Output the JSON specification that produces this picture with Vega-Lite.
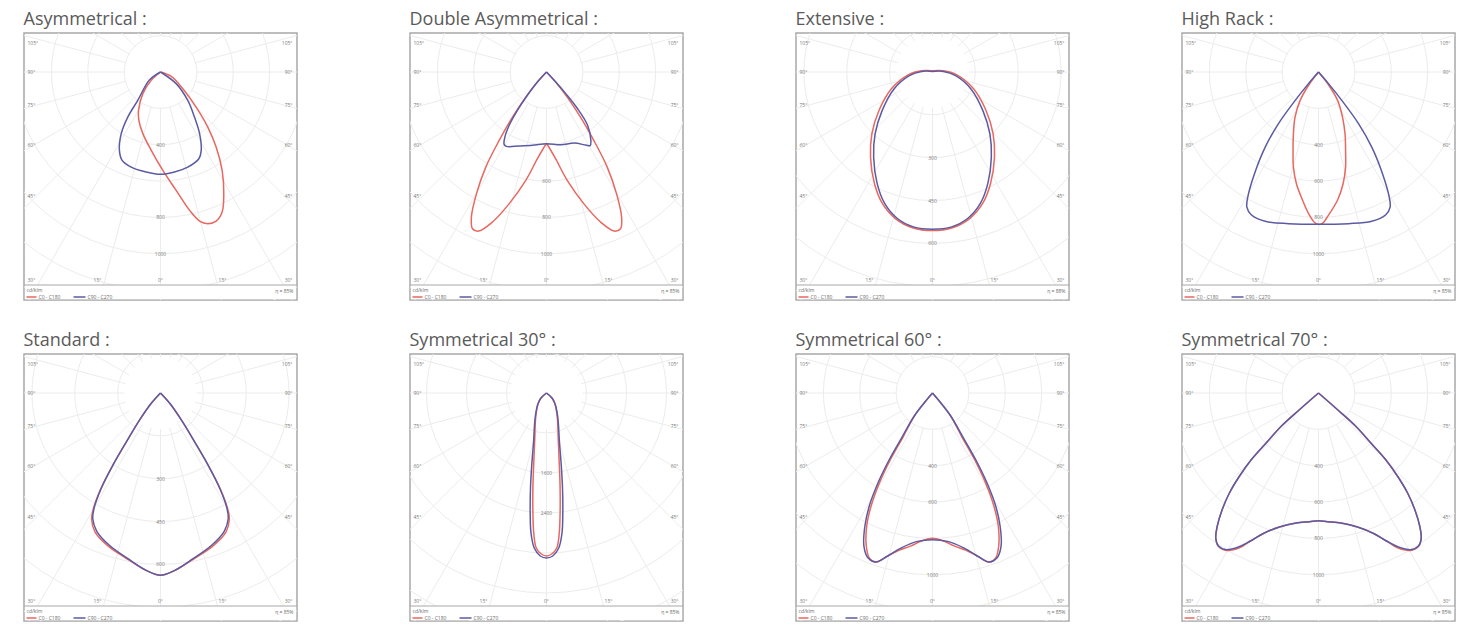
{
"$schema":"https://vega.github.io/schema/vega-lite/v6.json",
"background":"white",
"padding":{"left":22,"top":10,"right":5,"bottom":0},
"columns":4,
"spacing":{"row":54,"column":113},
"bounds":"flush",
"resolve":{"scale":{"x":"independent","y":"independent","size":"independent","color":"independent"}},
"config":{
 "view":{"stroke":"#a8a8a8","strokeWidth":1.5},
 "title":{"anchor":"start","font":"Open Sans","fontSize":18,"fontWeight":"normal","color":"#5a5a5a","offset":4},
 "text":{"font":"Open Sans"}
},
"datasets":{
"radials":[{"x1":0,"y1":36,"x2":0,"y2":300},
{"x1":9.3,"y1":34.8,"x2":77.6,"y2":289.8},{"x1":-9.3,"y1":34.8,"x2":-77.6,"y2":289.8},
{"x1":18,"y1":31.2,"x2":150,"y2":259.8},{"x1":-18,"y1":31.2,"x2":-150,"y2":259.8},
{"x1":25.5,"y1":25.5,"x2":212.1,"y2":212.1},{"x1":-25.5,"y1":25.5,"x2":-212.1,"y2":212.1},
{"x1":31.2,"y1":18,"x2":259.8,"y2":150},{"x1":-31.2,"y1":18,"x2":-259.8,"y2":150},
{"x1":34.8,"y1":9.3,"x2":289.8,"y2":77.6},{"x1":-34.8,"y1":9.3,"x2":-289.8,"y2":77.6},
{"x1":36,"y1":0,"x2":300,"y2":0},{"x1":-36,"y1":0,"x2":-300,"y2":0},
{"x1":34.8,"y1":-9.3,"x2":289.8,"y2":-77.6},{"x1":-34.8,"y1":-9.3,"x2":-289.8,"y2":-77.6},
{"x1":31.2,"y1":-18,"x2":259.8,"y2":-150},{"x1":-31.2,"y1":-18,"x2":-259.8,"y2":-150},
{"x1":25.5,"y1":-25.5,"x2":212.1,"y2":-212.1},{"x1":-25.5,"y1":-25.5,"x2":-212.1,"y2":-212.1},
{"x1":18,"y1":-31.2,"x2":150,"y2":-259.8},{"x1":-18,"y1":-31.2,"x2":-150,"y2":-259.8},
{"x1":9.3,"y1":-34.8,"x2":77.6,"y2":-289.8},{"x1":-9.3,"y1":-34.8,"x2":-77.6,"y2":-289.8},
{"x1":0,"y1":-36,"x2":0,"y2":-300}],
"angles":[
{"t":"105°","x":-133,"y":-29,"side":"L"},{"t":"90°","x":-133,"y":0,"side":"L"},{"t":"75°","x":-133,"y":33,"side":"L"},{"t":"60°","x":-133,"y":73,"side":"L"},{"t":"45°","x":-133,"y":124,"side":"L"},{"t":"30°","x":-133,"y":208,"side":"L"},
{"t":"105°","x":132,"y":-29,"side":"R"},{"t":"90°","x":132,"y":0,"side":"R"},{"t":"75°","x":132,"y":33,"side":"R"},{"t":"60°","x":132,"y":73,"side":"R"},{"t":"45°","x":132,"y":124,"side":"R"},{"t":"30°","x":132,"y":208,"side":"R"},
{"t":"15°","x":-63,"y":208,"side":"C"},{"t":"0°","x":0,"y":208,"side":"C"},{"t":"15°","x":62,"y":208,"side":"C"}],
"legend":[{"s":"C0 - C180","x":-134,"x2":-124,"y":225,"tx":-122},{"s":"C90 - C270","x":-87,"x2":-75,"y":225,"tx":-73}],
"rings":[
{"p":"a","r":200,"lab":false},{"p":"a","r":400,"lab":true},{"p":"a","r":600,"lab":false},{"p":"a","r":800,"lab":true},{"p":"a","r":1000,"lab":true},{"p":"a","r":1200,"lab":false},{"p":"a","r":1400,"lab":false},
{"p":"b","r":200,"lab":false},{"p":"b","r":400,"lab":false},{"p":"b","r":600,"lab":true},{"p":"b","r":800,"lab":true},{"p":"b","r":1000,"lab":true},{"p":"b","r":1200,"lab":false},{"p":"b","r":1400,"lab":false},
{"p":"c","r":150,"lab":false},{"p":"c","r":300,"lab":true},{"p":"c","r":450,"lab":true},{"p":"c","r":600,"lab":true},{"p":"c","r":750,"lab":false},{"p":"c","r":900,"lab":false},
{"p":"d","r":200,"lab":false},{"p":"d","r":400,"lab":true},{"p":"d","r":600,"lab":true},{"p":"d","r":800,"lab":true},{"p":"d","r":1000,"lab":true},{"p":"d","r":1200,"lab":false},{"p":"d","r":1400,"lab":false},
{"p":"e","r":150,"lab":false},{"p":"e","r":300,"lab":true},{"p":"e","r":450,"lab":true},{"p":"e","r":600,"lab":true},{"p":"e","r":750,"lab":false},{"p":"e","r":900,"lab":false},
{"p":"f","r":800,"lab":false},{"p":"f","r":1600,"lab":true},{"p":"f","r":2400,"lab":true},{"p":"f","r":3200,"lab":false},{"p":"f","r":4000,"lab":false},{"p":"f","r":4800,"lab":false},{"p":"f","r":5600,"lab":false},
{"p":"g","r":200,"lab":false},{"p":"g","r":400,"lab":true},{"p":"g","r":600,"lab":true},{"p":"g","r":800,"lab":false},{"p":"g","r":1000,"lab":true},{"p":"g","r":1200,"lab":false},{"p":"g","r":1400,"lab":false},
{"p":"h","r":200,"lab":false},{"p":"h","r":400,"lab":true},{"p":"h","r":600,"lab":true},{"p":"h","r":800,"lab":true},{"p":"h","r":1000,"lab":true},{"p":"h","r":1200,"lab":false},{"p":"h","r":1400,"lab":false}],
"curves":[
{"p":"a","s":"C0 - C180","i":0,"x":0,"y":0},{"p":"a","s":"C0 - C180","i":1,"x":-51,"y":46},{"p":"a","s":"C0 - C180","i":2,"x":-97,"y":119},{"p":"a","s":"C0 - C180","i":3,"x":-121,"y":211},{"p":"a","s":"C0 - C180","i":4,"x":-119,"y":266},{"p":"a","s":"C0 - C180","i":5,"x":-97,"y":339},{"p":"a","s":"C0 - C180","i":6,"x":-51,"y":431},{"p":"a","s":"C0 - C180","i":7,"x":13,"y":541},{"p":"a","s":"C0 - C180","i":8,"x":86,"y":651},{"p":"a","s":"C0 - C180","i":9,"x":160,"y":761},{"p":"a","s":"C0 - C180","i":10,"x":215,"y":820},{"p":"a","s":"C0 - C180","i":11,"x":260,"y":834},{"p":"a","s":"C0 - C180","i":12,"x":306,"y":820},{"p":"a","s":"C0 - C180","i":13,"x":339,"y":770},{"p":"a","s":"C0 - C180","i":14,"x":348,"y":669},{"p":"a","s":"C0 - C180","i":15,"x":339,"y":541},{"p":"a","s":"C0 - C180","i":16,"x":306,"y":413},{"p":"a","s":"C0 - C180","i":17,"x":260,"y":303},{"p":"a","s":"C0 - C180","i":18,"x":196,"y":193},{"p":"a","s":"C0 - C180","i":19,"x":123,"y":92},{"p":"a","s":"C0 - C180","i":20,"x":59,"y":24},{"p":"a","s":"C0 - C180","i":21,"x":0,"y":0},
{"p":"a","s":"C90 - C270","i":0,"x":0,"y":0},{"p":"a","s":"C90 - C270","i":1,"x":-61,"y":44},{"p":"a","s":"C90 - C270","i":2,"x":-125,"y":156},{"p":"a","s":"C90 - C270","i":3,"x":-180,"y":248},{"p":"a","s":"C90 - C270","i":4,"x":-216,"y":339},{"p":"a","s":"C90 - C270","i":5,"x":-226,"y":431},{"p":"a","s":"C90 - C270","i":6,"x":-211,"y":486},{"p":"a","s":"C90 - C270","i":7,"x":-161,"y":523},{"p":"a","s":"C90 - C270","i":8,"x":-79,"y":550},{"p":"a","s":"C90 - C270","i":9,"x":0,"y":563},{"p":"a","s":"C90 - C270","i":10,"x":77,"y":550},{"p":"a","s":"C90 - C270","i":11,"x":150,"y":523},{"p":"a","s":"C90 - C270","i":12,"x":211,"y":477},{"p":"a","s":"C90 - C270","i":13,"x":224,"y":431},{"p":"a","s":"C90 - C270","i":14,"x":215,"y":339},{"p":"a","s":"C90 - C270","i":15,"x":187,"y":248},{"p":"a","s":"C90 - C270","i":16,"x":150,"y":156},{"p":"a","s":"C90 - C270","i":17,"x":86,"y":64},{"p":"a","s":"C90 - C270","i":18,"x":0,"y":0},
{"p":"b","s":"C0 - C180","i":0,"x":0,"y":0},{"p":"b","s":"C0 - C180","i":1,"x":-50,"y":55},{"p":"b","s":"C0 - C180","i":2,"x":-114,"y":138},{"p":"b","s":"C0 - C180","i":3,"x":-187,"y":248},{"p":"b","s":"C0 - C180","i":4,"x":-260,"y":376},{"p":"b","s":"C0 - C180","i":5,"x":-334,"y":523},{"p":"b","s":"C0 - C180","i":6,"x":-385,"y":669},{"p":"b","s":"C0 - C180","i":7,"x":-413,"y":798},{"p":"b","s":"C0 - C180","i":8,"x":-407,"y":862},{"p":"b","s":"C0 - C180","i":9,"x":-374,"y":875},{"p":"b","s":"C0 - C180","i":10,"x":-297,"y":825},{"p":"b","s":"C0 - C180","i":11,"x":-205,"y":724},{"p":"b","s":"C0 - C180","i":12,"x":-114,"y":596},{"p":"b","s":"C0 - C180","i":13,"x":-50,"y":477},{"p":"b","s":"C0 - C180","i":14,"x":-20,"y":425},{"p":"b","s":"C0 - C180","i":15,"x":0,"y":398},{"p":"b","s":"C0 - C180","i":16,"x":20,"y":425},{"p":"b","s":"C0 - C180","i":17,"x":50,"y":477},{"p":"b","s":"C0 - C180","i":18,"x":114,"y":596},{"p":"b","s":"C0 - C180","i":19,"x":205,"y":724},{"p":"b","s":"C0 - C180","i":20,"x":297,"y":825},{"p":"b","s":"C0 - C180","i":21,"x":374,"y":875},{"p":"b","s":"C0 - C180","i":22,"x":407,"y":862},{"p":"b","s":"C0 - C180","i":23,"x":413,"y":798},{"p":"b","s":"C0 - C180","i":24,"x":385,"y":669},{"p":"b","s":"C0 - C180","i":25,"x":334,"y":523},{"p":"b","s":"C0 - C180","i":26,"x":260,"y":376},{"p":"b","s":"C0 - C180","i":27,"x":187,"y":248},{"p":"b","s":"C0 - C180","i":28,"x":114,"y":138},{"p":"b","s":"C0 - C180","i":29,"x":50,"y":55},{"p":"b","s":"C0 - C180","i":30,"x":0,"y":0},
{"p":"b","s":"C90 - C270","i":0,"x":0,"y":0},{"p":"b","s":"C90 - C270","i":1,"x":-50,"y":55},{"p":"b","s":"C90 - C270","i":2,"x":-105,"y":128},{"p":"b","s":"C90 - C270","i":3,"x":-160,"y":211},{"p":"b","s":"C90 - C270","i":4,"x":-205,"y":293},{"p":"b","s":"C90 - C270","i":5,"x":-229,"y":358},{"p":"b","s":"C90 - C270","i":6,"x":-233,"y":398},{"p":"b","s":"C90 - C270","i":7,"x":-220,"y":409},{"p":"b","s":"C90 - C270","i":8,"x":-150,"y":407},{"p":"b","s":"C90 - C270","i":9,"x":-77,"y":403},{"p":"b","s":"C90 - C270","i":10,"x":0,"y":394},{"p":"b","s":"C90 - C270","i":11,"x":79,"y":400},{"p":"b","s":"C90 - C270","i":12,"x":152,"y":391},{"p":"b","s":"C90 - C270","i":13,"x":216,"y":402},{"p":"b","s":"C90 - C270","i":14,"x":240,"y":405},{"p":"b","s":"C90 - C270","i":15,"x":244,"y":376},{"p":"b","s":"C90 - C270","i":16,"x":226,"y":293},{"p":"b","s":"C90 - C270","i":17,"x":171,"y":202},{"p":"b","s":"C90 - C270","i":18,"x":106,"y":119},{"p":"b","s":"C90 - C270","i":19,"x":51,"y":55},{"p":"b","s":"C90 - C270","i":20,"x":0,"y":0},
{"p":"c","s":"C0 - C180","i":0,"x":0,"y":-4},{"p":"c","s":"C0 - C180","i":1,"x":38,"y":-4},{"p":"c","s":"C0 - C180","i":2,"x":85,"y":10},{"p":"c","s":"C0 - C180","i":3,"x":143,"y":58},{"p":"c","s":"C0 - C180","i":4,"x":187,"y":134},{"p":"c","s":"C0 - C180","i":5,"x":212,"y":216},{"p":"c","s":"C0 - C180","i":6,"x":217,"y":298},{"p":"c","s":"C0 - C180","i":7,"x":203,"y":391},{"p":"c","s":"C0 - C180","i":8,"x":175,"y":461},{"p":"c","s":"C0 - C180","i":9,"x":130,"y":513},{"p":"c","s":"C0 - C180","i":10,"x":70,"y":545},{"p":"c","s":"C0 - C180","i":11,"x":0,"y":555},{"p":"c","s":"C0 - C180","i":12,"x":-70,"y":545},{"p":"c","s":"C0 - C180","i":13,"x":-130,"y":513},{"p":"c","s":"C0 - C180","i":14,"x":-175,"y":461},{"p":"c","s":"C0 - C180","i":15,"x":-203,"y":391},{"p":"c","s":"C0 - C180","i":16,"x":-217,"y":298},{"p":"c","s":"C0 - C180","i":17,"x":-212,"y":216},{"p":"c","s":"C0 - C180","i":18,"x":-187,"y":134},{"p":"c","s":"C0 - C180","i":19,"x":-143,"y":58},{"p":"c","s":"C0 - C180","i":20,"x":-85,"y":10},{"p":"c","s":"C0 - C180","i":21,"x":-38,"y":-4},{"p":"c","s":"C0 - C180","i":22,"x":0,"y":-4},
{"p":"c","s":"C90 - C270","i":0,"x":0,"y":-2},{"p":"c","s":"C90 - C270","i":1,"x":38,"y":-2},{"p":"c","s":"C90 - C270","i":2,"x":81,"y":13},{"p":"c","s":"C90 - C270","i":3,"x":136,"y":61},{"p":"c","s":"C90 - C270","i":4,"x":177,"y":137},{"p":"c","s":"C90 - C270","i":5,"x":201,"y":217},{"p":"c","s":"C90 - C270","i":6,"x":206,"y":298},{"p":"c","s":"C90 - C270","i":7,"x":194,"y":389},{"p":"c","s":"C90 - C270","i":8,"x":168,"y":459},{"p":"c","s":"C90 - C270","i":9,"x":125,"y":511},{"p":"c","s":"C90 - C270","i":10,"x":67,"y":542},{"p":"c","s":"C90 - C270","i":11,"x":0,"y":550},{"p":"c","s":"C90 - C270","i":12,"x":-67,"y":542},{"p":"c","s":"C90 - C270","i":13,"x":-125,"y":511},{"p":"c","s":"C90 - C270","i":14,"x":-168,"y":459},{"p":"c","s":"C90 - C270","i":15,"x":-194,"y":389},{"p":"c","s":"C90 - C270","i":16,"x":-206,"y":298},{"p":"c","s":"C90 - C270","i":17,"x":-201,"y":217},{"p":"c","s":"C90 - C270","i":18,"x":-177,"y":137},{"p":"c","s":"C90 - C270","i":19,"x":-136,"y":61},{"p":"c","s":"C90 - C270","i":20,"x":-81,"y":13},{"p":"c","s":"C90 - C270","i":21,"x":-38,"y":-2},{"p":"c","s":"C90 - C270","i":22,"x":0,"y":-2},
{"p":"d","s":"C0 - C180","i":0,"x":0,"y":0},{"p":"d","s":"C0 - C180","i":1,"x":-50,"y":66},{"p":"d","s":"C0 - C180","i":2,"x":-101,"y":156},{"p":"d","s":"C0 - C180","i":3,"x":-129,"y":248},{"p":"d","s":"C0 - C180","i":4,"x":-138,"y":341},{"p":"d","s":"C0 - C180","i":5,"x":-140,"y":440},{"p":"d","s":"C0 - C180","i":6,"x":-138,"y":523},{"p":"d","s":"C0 - C180","i":7,"x":-121,"y":616},{"p":"d","s":"C0 - C180","i":8,"x":-88,"y":704},{"p":"d","s":"C0 - C180","i":9,"x":-50,"y":787},{"p":"d","s":"C0 - C180","i":10,"x":-17,"y":831},{"p":"d","s":"C0 - C180","i":11,"x":17,"y":836},{"p":"d","s":"C0 - C180","i":12,"x":55,"y":787},{"p":"d","s":"C0 - C180","i":13,"x":105,"y":704},{"p":"d","s":"C0 - C180","i":14,"x":135,"y":616},{"p":"d","s":"C0 - C180","i":15,"x":149,"y":523},{"p":"d","s":"C0 - C180","i":16,"x":149,"y":440},{"p":"d","s":"C0 - C180","i":17,"x":146,"y":341},{"p":"d","s":"C0 - C180","i":18,"x":132,"y":248},{"p":"d","s":"C0 - C180","i":19,"x":105,"y":156},{"p":"d","s":"C0 - C180","i":20,"x":52,"y":66},{"p":"d","s":"C0 - C180","i":21,"x":0,"y":0},
{"p":"d","s":"C90 - C270","i":0,"x":0,"y":0},{"p":"d","s":"C90 - C270","i":1,"x":-55,"y":64},{"p":"d","s":"C90 - C270","i":2,"x":-128,"y":156},{"p":"d","s":"C90 - C270","i":3,"x":-220,"y":284},{"p":"d","s":"C90 - C270","i":4,"x":-293,"y":413},{"p":"d","s":"C90 - C270","i":5,"x":-352,"y":559},{"p":"d","s":"C90 - C270","i":6,"x":-389,"y":688},{"p":"d","s":"C90 - C270","i":7,"x":-394,"y":743},{"p":"d","s":"C90 - C270","i":8,"x":-370,"y":785},{"p":"d","s":"C90 - C270","i":9,"x":-293,"y":821},{"p":"d","s":"C90 - C270","i":10,"x":-165,"y":834},{"p":"d","s":"C90 - C270","i":11,"x":0,"y":838},{"p":"d","s":"C90 - C270","i":12,"x":165,"y":834},{"p":"d","s":"C90 - C270","i":13,"x":293,"y":821},{"p":"d","s":"C90 - C270","i":14,"x":370,"y":785},{"p":"d","s":"C90 - C270","i":15,"x":394,"y":743},{"p":"d","s":"C90 - C270","i":16,"x":389,"y":688},{"p":"d","s":"C90 - C270","i":17,"x":352,"y":559},{"p":"d","s":"C90 - C270","i":18,"x":293,"y":413},{"p":"d","s":"C90 - C270","i":19,"x":220,"y":284},{"p":"d","s":"C90 - C270","i":20,"x":128,"y":156},{"p":"d","s":"C90 - C270","i":21,"x":55,"y":64},{"p":"d","s":"C90 - C270","i":22,"x":0,"y":0},
{"p":"e","s":"C0 - C180","i":0,"x":0,"y":0},{"p":"e","s":"C0 - C180","i":1,"x":-33,"y":37},{"p":"e","s":"C0 - C180","i":2,"x":-74,"y":96},{"p":"e","s":"C0 - C180","i":3,"x":-120,"y":172},{"p":"e","s":"C0 - C180","i":4,"x":-167,"y":253},{"p":"e","s":"C0 - C180","i":5,"x":-209,"y":335},{"p":"e","s":"C0 - C180","i":6,"x":-235,"y":405},{"p":"e","s":"C0 - C180","i":7,"x":-241,"y":442},{"p":"e","s":"C0 - C180","i":8,"x":-229,"y":487},{"p":"e","s":"C0 - C180","i":9,"x":-184,"y":535},{"p":"e","s":"C0 - C180","i":10,"x":-116,"y":581},{"p":"e","s":"C0 - C180","i":11,"x":-50,"y":621},{"p":"e","s":"C0 - C180","i":12,"x":0,"y":638},{"p":"e","s":"C0 - C180","i":13,"x":50,"y":621},{"p":"e","s":"C0 - C180","i":14,"x":116,"y":581},{"p":"e","s":"C0 - C180","i":15,"x":184,"y":535},{"p":"e","s":"C0 - C180","i":16,"x":229,"y":487},{"p":"e","s":"C0 - C180","i":17,"x":241,"y":442},{"p":"e","s":"C0 - C180","i":18,"x":235,"y":405},{"p":"e","s":"C0 - C180","i":19,"x":209,"y":335},{"p":"e","s":"C0 - C180","i":20,"x":167,"y":253},{"p":"e","s":"C0 - C180","i":21,"x":120,"y":172},{"p":"e","s":"C0 - C180","i":22,"x":74,"y":96},{"p":"e","s":"C0 - C180","i":23,"x":33,"y":37},{"p":"e","s":"C0 - C180","i":24,"x":0,"y":0},
{"p":"e","s":"C90 - C270","i":0,"x":0,"y":0},{"p":"e","s":"C90 - C270","i":1,"x":-33,"y":37},{"p":"e","s":"C90 - C270","i":2,"x":-74,"y":96},{"p":"e","s":"C90 - C270","i":3,"x":-120,"y":172},{"p":"e","s":"C90 - C270","i":4,"x":-167,"y":253},{"p":"e","s":"C90 - C270","i":5,"x":-208,"y":335},{"p":"e","s":"C90 - C270","i":6,"x":-233,"y":405},{"p":"e","s":"C90 - C270","i":7,"x":-237,"y":440},{"p":"e","s":"C90 - C270","i":8,"x":-223,"y":484},{"p":"e","s":"C90 - C270","i":9,"x":-179,"y":533},{"p":"e","s":"C90 - C270","i":10,"x":-114,"y":580},{"p":"e","s":"C90 - C270","i":11,"x":-50,"y":621},{"p":"e","s":"C90 - C270","i":12,"x":0,"y":638},{"p":"e","s":"C90 - C270","i":13,"x":50,"y":621},{"p":"e","s":"C90 - C270","i":14,"x":114,"y":580},{"p":"e","s":"C90 - C270","i":15,"x":179,"y":533},{"p":"e","s":"C90 - C270","i":16,"x":223,"y":484},{"p":"e","s":"C90 - C270","i":17,"x":237,"y":440},{"p":"e","s":"C90 - C270","i":18,"x":233,"y":405},{"p":"e","s":"C90 - C270","i":19,"x":208,"y":335},{"p":"e","s":"C90 - C270","i":20,"x":167,"y":253},{"p":"e","s":"C90 - C270","i":21,"x":120,"y":172},{"p":"e","s":"C90 - C270","i":22,"x":74,"y":96},{"p":"e","s":"C90 - C270","i":23,"x":33,"y":37},{"p":"e","s":"C90 - C270","i":24,"x":0,"y":0},
{"p":"f","s":"C0 - C180","i":0,"x":0,"y":0},{"p":"f","s":"C0 - C180","i":1,"x":-110,"y":100},{"p":"f","s":"C0 - C180","i":2,"x":-170,"y":220},{"p":"f","s":"C0 - C180","i":3,"x":-215,"y":480},{"p":"f","s":"C0 - C180","i":4,"x":-238,"y":1000},{"p":"f","s":"C0 - C180","i":5,"x":-255,"y":1400},{"p":"f","s":"C0 - C180","i":6,"x":-272,"y":1900},{"p":"f","s":"C0 - C180","i":7,"x":-272,"y":2400},{"p":"f","s":"C0 - C180","i":8,"x":-255,"y":2800},{"p":"f","s":"C0 - C180","i":9,"x":-205,"y":3100},{"p":"f","s":"C0 - C180","i":10,"x":-105,"y":3220},{"p":"f","s":"C0 - C180","i":11,"x":0,"y":3260},{"p":"f","s":"C0 - C180","i":12,"x":105,"y":3220},{"p":"f","s":"C0 - C180","i":13,"x":205,"y":3100},{"p":"f","s":"C0 - C180","i":14,"x":255,"y":2800},{"p":"f","s":"C0 - C180","i":15,"x":272,"y":2400},{"p":"f","s":"C0 - C180","i":16,"x":272,"y":1900},{"p":"f","s":"C0 - C180","i":17,"x":255,"y":1400},{"p":"f","s":"C0 - C180","i":18,"x":238,"y":1000},{"p":"f","s":"C0 - C180","i":19,"x":215,"y":480},{"p":"f","s":"C0 - C180","i":20,"x":170,"y":220},{"p":"f","s":"C0 - C180","i":21,"x":110,"y":100},{"p":"f","s":"C0 - C180","i":22,"x":0,"y":0},
{"p":"f","s":"C90 - C270","i":0,"x":0,"y":0},{"p":"f","s":"C90 - C270","i":1,"x":-110,"y":100},{"p":"f","s":"C90 - C270","i":2,"x":-172,"y":220},{"p":"f","s":"C90 - C270","i":3,"x":-225,"y":480},{"p":"f","s":"C90 - C270","i":4,"x":-260,"y":1000},{"p":"f","s":"C90 - C270","i":5,"x":-292,"y":1400},{"p":"f","s":"C90 - C270","i":6,"x":-320,"y":1900},{"p":"f","s":"C90 - C270","i":7,"x":-326,"y":2400},{"p":"f","s":"C90 - C270","i":8,"x":-310,"y":2800},{"p":"f","s":"C90 - C270","i":9,"x":-245,"y":3100},{"p":"f","s":"C90 - C270","i":10,"x":-125,"y":3260},{"p":"f","s":"C90 - C270","i":11,"x":0,"y":3300},{"p":"f","s":"C90 - C270","i":12,"x":125,"y":3260},{"p":"f","s":"C90 - C270","i":13,"x":245,"y":3100},{"p":"f","s":"C90 - C270","i":14,"x":310,"y":2800},{"p":"f","s":"C90 - C270","i":15,"x":326,"y":2400},{"p":"f","s":"C90 - C270","i":16,"x":320,"y":1900},{"p":"f","s":"C90 - C270","i":17,"x":292,"y":1400},{"p":"f","s":"C90 - C270","i":18,"x":260,"y":1000},{"p":"f","s":"C90 - C270","i":19,"x":225,"y":480},{"p":"f","s":"C90 - C270","i":20,"x":172,"y":220},{"p":"f","s":"C90 - C270","i":21,"x":110,"y":100},{"p":"f","s":"C90 - C270","i":22,"x":0,"y":0},
{"p":"g","s":"C0 - C180","i":0,"x":0,"y":0},{"p":"g","s":"C0 - C180","i":1,"x":-46,"y":55},{"p":"g","s":"C0 - C180","i":2,"x":-101,"y":128},{"p":"g","s":"C0 - C180","i":3,"x":-160,"y":238},{"p":"g","s":"C0 - C180","i":4,"x":-232,"y":367},{"p":"g","s":"C0 - C180","i":5,"x":-292,"y":495},{"p":"g","s":"C0 - C180","i":6,"x":-338,"y":623},{"p":"g","s":"C0 - C180","i":7,"x":-362,"y":733},{"p":"g","s":"C0 - C180","i":8,"x":-364,"y":843},{"p":"g","s":"C0 - C180","i":9,"x":-347,"y":908},{"p":"g","s":"C0 - C180","i":10,"x":-312,"y":930},{"p":"g","s":"C0 - C180","i":11,"x":-248,"y":897},{"p":"g","s":"C0 - C180","i":12,"x":-182,"y":864},{"p":"g","s":"C0 - C180","i":13,"x":-121,"y":842},{"p":"g","s":"C0 - C180","i":14,"x":-61,"y":814},{"p":"g","s":"C0 - C180","i":15,"x":0,"y":799},{"p":"g","s":"C0 - C180","i":16,"x":61,"y":814},{"p":"g","s":"C0 - C180","i":17,"x":121,"y":842},{"p":"g","s":"C0 - C180","i":18,"x":182,"y":864},{"p":"g","s":"C0 - C180","i":19,"x":248,"y":897},{"p":"g","s":"C0 - C180","i":20,"x":312,"y":930},{"p":"g","s":"C0 - C180","i":21,"x":347,"y":908},{"p":"g","s":"C0 - C180","i":22,"x":364,"y":843},{"p":"g","s":"C0 - C180","i":23,"x":362,"y":733},{"p":"g","s":"C0 - C180","i":24,"x":338,"y":623},{"p":"g","s":"C0 - C180","i":25,"x":292,"y":495},{"p":"g","s":"C0 - C180","i":26,"x":232,"y":367},{"p":"g","s":"C0 - C180","i":27,"x":160,"y":238},{"p":"g","s":"C0 - C180","i":28,"x":101,"y":128},{"p":"g","s":"C0 - C180","i":29,"x":46,"y":55},{"p":"g","s":"C0 - C180","i":30,"x":0,"y":0},
{"p":"g","s":"C90 - C270","i":0,"x":0,"y":0},{"p":"g","s":"C90 - C270","i":1,"x":-46,"y":55},{"p":"g","s":"C90 - C270","i":2,"x":-101,"y":128},{"p":"g","s":"C90 - C270","i":3,"x":-165,"y":238},{"p":"g","s":"C90 - C270","i":4,"x":-238,"y":367},{"p":"g","s":"C90 - C270","i":5,"x":-300,"y":495},{"p":"g","s":"C90 - C270","i":6,"x":-348,"y":623},{"p":"g","s":"C90 - C270","i":7,"x":-372,"y":733},{"p":"g","s":"C90 - C270","i":8,"x":-377,"y":843},{"p":"g","s":"C90 - C270","i":9,"x":-354,"y":908},{"p":"g","s":"C90 - C270","i":10,"x":-312,"y":930},{"p":"g","s":"C90 - C270","i":11,"x":-248,"y":898},{"p":"g","s":"C90 - C270","i":12,"x":-174,"y":853},{"p":"g","s":"C90 - C270","i":13,"x":-83,"y":816},{"p":"g","s":"C90 - C270","i":14,"x":0,"y":807},{"p":"g","s":"C90 - C270","i":15,"x":83,"y":816},{"p":"g","s":"C90 - C270","i":16,"x":174,"y":853},{"p":"g","s":"C90 - C270","i":17,"x":248,"y":898},{"p":"g","s":"C90 - C270","i":18,"x":312,"y":930},{"p":"g","s":"C90 - C270","i":19,"x":354,"y":908},{"p":"g","s":"C90 - C270","i":20,"x":377,"y":843},{"p":"g","s":"C90 - C270","i":21,"x":372,"y":733},{"p":"g","s":"C90 - C270","i":22,"x":348,"y":623},{"p":"g","s":"C90 - C270","i":23,"x":300,"y":495},{"p":"g","s":"C90 - C270","i":24,"x":238,"y":367},{"p":"g","s":"C90 - C270","i":25,"x":165,"y":238},{"p":"g","s":"C90 - C270","i":26,"x":101,"y":128},{"p":"g","s":"C90 - C270","i":27,"x":46,"y":55},{"p":"g","s":"C90 - C270","i":28,"x":0,"y":0},
{"p":"h","s":"C0 - C180","i":0,"x":0,"y":0},{"p":"h","s":"C0 - C180","i":1,"x":-105,"y":92},{"p":"h","s":"C0 - C180","i":2,"x":-205,"y":183},{"p":"h","s":"C0 - C180","i":3,"x":-288,"y":275},{"p":"h","s":"C0 - C180","i":4,"x":-370,"y":367},{"p":"h","s":"C0 - C180","i":5,"x":-435,"y":458},{"p":"h","s":"C0 - C180","i":6,"x":-490,"y":550},{"p":"h","s":"C0 - C180","i":7,"x":-530,"y":642},{"p":"h","s":"C0 - C180","i":8,"x":-557,"y":733},{"p":"h","s":"C0 - C180","i":9,"x":-565,"y":798},{"p":"h","s":"C0 - C180","i":10,"x":-548,"y":846},{"p":"h","s":"C0 - C180","i":11,"x":-505,"y":866},{"p":"h","s":"C0 - C180","i":12,"x":-435,"y":852},{"p":"h","s":"C0 - C180","i":13,"x":-374,"y":814},{"p":"h","s":"C0 - C180","i":14,"x":-306,"y":774},{"p":"h","s":"C0 - C180","i":15,"x":-215,"y":737},{"p":"h","s":"C0 - C180","i":16,"x":-123,"y":715},{"p":"h","s":"C0 - C180","i":17,"x":-50,"y":708},{"p":"h","s":"C0 - C180","i":18,"x":0,"y":702},{"p":"h","s":"C0 - C180","i":19,"x":50,"y":708},{"p":"h","s":"C0 - C180","i":20,"x":123,"y":715},{"p":"h","s":"C0 - C180","i":21,"x":215,"y":737},{"p":"h","s":"C0 - C180","i":22,"x":306,"y":774},{"p":"h","s":"C0 - C180","i":23,"x":374,"y":814},{"p":"h","s":"C0 - C180","i":24,"x":435,"y":852},{"p":"h","s":"C0 - C180","i":25,"x":505,"y":866},{"p":"h","s":"C0 - C180","i":26,"x":548,"y":846},{"p":"h","s":"C0 - C180","i":27,"x":565,"y":798},{"p":"h","s":"C0 - C180","i":28,"x":557,"y":733},{"p":"h","s":"C0 - C180","i":29,"x":530,"y":642},{"p":"h","s":"C0 - C180","i":30,"x":490,"y":550},{"p":"h","s":"C0 - C180","i":31,"x":435,"y":458},{"p":"h","s":"C0 - C180","i":32,"x":370,"y":367},{"p":"h","s":"C0 - C180","i":33,"x":288,"y":275},{"p":"h","s":"C0 - C180","i":34,"x":205,"y":183},{"p":"h","s":"C0 - C180","i":35,"x":105,"y":92},{"p":"h","s":"C0 - C180","i":36,"x":0,"y":0},
{"p":"h","s":"C90 - C270","i":0,"x":0,"y":0},{"p":"h","s":"C90 - C270","i":1,"x":-105,"y":92},{"p":"h","s":"C90 - C270","i":2,"x":-205,"y":183},{"p":"h","s":"C90 - C270","i":3,"x":-288,"y":275},{"p":"h","s":"C90 - C270","i":4,"x":-370,"y":367},{"p":"h","s":"C90 - C270","i":5,"x":-435,"y":458},{"p":"h","s":"C90 - C270","i":6,"x":-490,"y":550},{"p":"h","s":"C90 - C270","i":7,"x":-530,"y":642},{"p":"h","s":"C90 - C270","i":8,"x":-557,"y":733},{"p":"h","s":"C90 - C270","i":9,"x":-565,"y":798},{"p":"h","s":"C90 - C270","i":10,"x":-550,"y":842},{"p":"h","s":"C90 - C270","i":11,"x":-512,"y":861},{"p":"h","s":"C90 - C270","i":12,"x":-440,"y":847},{"p":"h","s":"C90 - C270","i":13,"x":-374,"y":814},{"p":"h","s":"C90 - C270","i":14,"x":-306,"y":774},{"p":"h","s":"C90 - C270","i":15,"x":-215,"y":737},{"p":"h","s":"C90 - C270","i":16,"x":-123,"y":715},{"p":"h","s":"C90 - C270","i":17,"x":-50,"y":708},{"p":"h","s":"C90 - C270","i":18,"x":0,"y":702},{"p":"h","s":"C90 - C270","i":19,"x":50,"y":708},{"p":"h","s":"C90 - C270","i":20,"x":123,"y":715},{"p":"h","s":"C90 - C270","i":21,"x":215,"y":737},{"p":"h","s":"C90 - C270","i":22,"x":306,"y":774},{"p":"h","s":"C90 - C270","i":23,"x":374,"y":814},{"p":"h","s":"C90 - C270","i":24,"x":440,"y":847},{"p":"h","s":"C90 - C270","i":25,"x":512,"y":861},{"p":"h","s":"C90 - C270","i":26,"x":550,"y":842},{"p":"h","s":"C90 - C270","i":27,"x":565,"y":798},{"p":"h","s":"C90 - C270","i":28,"x":557,"y":733},{"p":"h","s":"C90 - C270","i":29,"x":530,"y":642},{"p":"h","s":"C90 - C270","i":30,"x":490,"y":550},{"p":"h","s":"C90 - C270","i":31,"x":435,"y":458},{"p":"h","s":"C90 - C270","i":32,"x":370,"y":367},{"p":"h","s":"C90 - C270","i":33,"x":288,"y":275},{"p":"h","s":"C90 - C270","i":34,"x":205,"y":183},{"p":"h","s":"C90 - C270","i":35,"x":105,"y":92},{"p":"h","s":"C90 - C270","i":36,"x":0,"y":0}
]
},
"concat":[
{"title":"Asymmetrical :","width":273,"height":267,"resolve":{"scale":{"x":"independent","y":"independent"}},"layer":[
{"data":{"name":"radials"},"mark":{"type":"rule","clip":true,"color":"#ececec","strokeWidth":1},"encoding":{"x":{"field":"x1","type":"quantitative","scale":{"domain":[-136.5,136.5],"nice":false,"zero":false},"axis":null},"y":{"field":"y1","type":"quantitative","scale":{"domain":[-39,228],"nice":false,"zero":false,"reverse":true},"axis":null},"x2":{"field":"x2"},"y2":{"field":"y2"}}},
{"layer":[
{"data":{"name":"rings"},"transform":[{"filter":"datum.p=='a'"}],"mark":{"type":"point","shape":"circle","filled":false,"clip":true,"color":"#ececec","strokeWidth":1,"opacity":1},"encoding":{"x":{"datum":0,"type":"quantitative","scale":{"domain":[-750.75,750.75],"nice":false,"zero":false},"axis":null},"y":{"datum":0,"type":"quantitative","scale":{"domain":[-214.5,1254],"nice":false,"zero":false,"reverse":true},"axis":null},"size":{"field":"r","type":"quantitative","scale":{"type":"pow","exponent":2,"domain":[0,1400],"range":[0,259183]},"legend":null}}},
{"data":{"name":"rings"},"transform":[{"filter":"datum.p=='a' && datum.lab"}],"mark":{"type":"text","fontSize":5,"color":"#7a7a7a"},"encoding":{"x":{"datum":0,"type":"quantitative","scale":{"domain":[-750.75,750.75],"nice":false,"zero":false},"axis":null},"y":{"field":"r","type":"quantitative","scale":{"domain":[-214.5,1254],"nice":false,"zero":false,"reverse":true},"axis":null},"text":{"field":"r","type":"nominal"}}},
{"data":{"name":"curves"},"transform":[{"filter":"datum.p=='a'"}],"mark":{"type":"line","clip":true,"strokeWidth":1.5,"interpolate":"catmull-rom"},"encoding":{"x":{"field":"x","type":"quantitative","scale":{"domain":[-750.75,750.75],"nice":false,"zero":false},"axis":null},"y":{"field":"y","type":"quantitative","scale":{"domain":[-214.5,1254],"nice":false,"zero":false,"reverse":true},"axis":null},"color":{"field":"s","type":"nominal","scale":{"domain":["C0 - C180","C90 - C270"],"range":["#e8675f","#5b5ba3"]},"legend":null},"order":{"field":"i","type":"quantitative"}}}
]},
{"layer":[
{"data":{"values":[{}]},"mark":{"type":"rect","color":"white"},"encoding":{"x":{"datum":-135.6,"type":"quantitative","scale":{"domain":[-136.5,136.5],"nice":false,"zero":false},"axis":null},"x2":{"datum":135.6},"y":{"datum":213,"type":"quantitative","scale":{"domain":[-39,228],"nice":false,"zero":false,"reverse":true},"axis":null},"y2":{"datum":227.3}}},
{"data":{"values":[{}]},"mark":{"type":"rule","color":"#a8a8a8","strokeWidth":1},"encoding":{"x":{"datum":-136.5,"type":"quantitative","scale":{"domain":[-136.5,136.5],"nice":false,"zero":false},"axis":null},"x2":{"datum":136.5},"y":{"datum":213,"type":"quantitative","scale":{"domain":[-39,228],"nice":false,"zero":false,"reverse":true},"axis":null}}},
{"data":{"name":"angles"},"transform":[{"filter":"datum.side=='L'"}],"mark":{"type":"text","align":"left","fontSize":5,"color":"#7a7a7a"},"encoding":{"x":{"field":"x","type":"quantitative","scale":{"domain":[-136.5,136.5],"nice":false,"zero":false},"axis":null},"y":{"field":"y","type":"quantitative","scale":{"domain":[-39,228],"nice":false,"zero":false,"reverse":true},"axis":null},"text":{"field":"t","type":"nominal"}}},
{"data":{"name":"angles"},"transform":[{"filter":"datum.side=='R'"}],"mark":{"type":"text","align":"right","fontSize":5,"color":"#7a7a7a"},"encoding":{"x":{"field":"x","type":"quantitative","scale":{"domain":[-136.5,136.5],"nice":false,"zero":false},"axis":null},"y":{"field":"y","type":"quantitative","scale":{"domain":[-39,228],"nice":false,"zero":false,"reverse":true},"axis":null},"text":{"field":"t","type":"nominal"}}},
{"data":{"name":"angles"},"transform":[{"filter":"datum.side=='C'"}],"mark":{"type":"text","align":"center","fontSize":5,"color":"#7a7a7a"},"encoding":{"x":{"field":"x","type":"quantitative","scale":{"domain":[-136.5,136.5],"nice":false,"zero":false},"axis":null},"y":{"field":"y","type":"quantitative","scale":{"domain":[-39,228],"nice":false,"zero":false,"reverse":true},"axis":null},"text":{"field":"t","type":"nominal"}}},
{"data":{"values":[{}]},"mark":{"type":"text","text":"cd/klm","align":"left","fontSize":5,"color":"#6a6a6a"},"encoding":{"x":{"datum":-134,"type":"quantitative","scale":{"domain":[-136.5,136.5],"nice":false,"zero":false},"axis":null},"y":{"datum":218,"type":"quantitative","scale":{"domain":[-39,228],"nice":false,"zero":false,"reverse":true},"axis":null}}},
{"data":{"values":[{}]},"mark":{"type":"text","text":"η = 85%","align":"right","fontSize":5,"color":"#6a6a6a"},"encoding":{"x":{"datum":133,"type":"quantitative","scale":{"domain":[-136.5,136.5],"nice":false,"zero":false},"axis":null},"y":{"datum":219,"type":"quantitative","scale":{"domain":[-39,228],"nice":false,"zero":false,"reverse":true},"axis":null}}},
{"data":{"name":"legend"},"mark":{"type":"rule","strokeWidth":1.5},"encoding":{"x":{"field":"x","type":"quantitative","scale":{"domain":[-136.5,136.5],"nice":false,"zero":false},"axis":null},"x2":{"field":"x2"},"y":{"field":"y","type":"quantitative","scale":{"domain":[-39,228],"nice":false,"zero":false,"reverse":true},"axis":null},"color":{"field":"s","type":"nominal","scale":{"domain":["C0 - C180","C90 - C270"],"range":["#e8675f","#5b5ba3"]},"legend":null}}},
{"data":{"name":"legend"},"mark":{"type":"text","align":"left","fontSize":5,"color":"#6a6a6a"},"encoding":{"x":{"field":"tx","type":"quantitative","scale":{"domain":[-136.5,136.5],"nice":false,"zero":false},"axis":null},"y":{"field":"y","type":"quantitative","scale":{"domain":[-39,228],"nice":false,"zero":false,"reverse":true},"axis":null},"text":{"field":"s","type":"nominal"}}}
]}
]},
{"title":"Double Asymmetrical :","width":273,"height":267,"resolve":{"scale":{"x":"independent","y":"independent"}},"layer":[
{"data":{"name":"radials"},"mark":{"type":"rule","clip":true,"color":"#ececec","strokeWidth":1},"encoding":{"x":{"field":"x1","type":"quantitative","scale":{"domain":[-136.5,136.5],"nice":false,"zero":false},"axis":null},"y":{"field":"y1","type":"quantitative","scale":{"domain":[-39,228],"nice":false,"zero":false,"reverse":true},"axis":null},"x2":{"field":"x2"},"y2":{"field":"y2"}}},
{"layer":[
{"data":{"name":"rings"},"transform":[{"filter":"datum.p=='b'"}],"mark":{"type":"point","shape":"circle","filled":false,"clip":true,"color":"#ececec","strokeWidth":1,"opacity":1},"encoding":{"x":{"datum":0,"type":"quantitative","scale":{"domain":[-750.75,750.75],"nice":false,"zero":false},"axis":null},"y":{"datum":0,"type":"quantitative","scale":{"domain":[-214.5,1254],"nice":false,"zero":false,"reverse":true},"axis":null},"size":{"field":"r","type":"quantitative","scale":{"type":"pow","exponent":2,"domain":[0,1400],"range":[0,259183]},"legend":null}}},
{"data":{"name":"rings"},"transform":[{"filter":"datum.p=='b' && datum.lab"}],"mark":{"type":"text","fontSize":5,"color":"#7a7a7a"},"encoding":{"x":{"datum":0,"type":"quantitative","scale":{"domain":[-750.75,750.75],"nice":false,"zero":false},"axis":null},"y":{"field":"r","type":"quantitative","scale":{"domain":[-214.5,1254],"nice":false,"zero":false,"reverse":true},"axis":null},"text":{"field":"r","type":"nominal"}}},
{"data":{"name":"curves"},"transform":[{"filter":"datum.p=='b'"}],"mark":{"type":"line","clip":true,"strokeWidth":1.5,"interpolate":"catmull-rom"},"encoding":{"x":{"field":"x","type":"quantitative","scale":{"domain":[-750.75,750.75],"nice":false,"zero":false},"axis":null},"y":{"field":"y","type":"quantitative","scale":{"domain":[-214.5,1254],"nice":false,"zero":false,"reverse":true},"axis":null},"color":{"field":"s","type":"nominal","scale":{"domain":["C0 - C180","C90 - C270"],"range":["#e8675f","#5b5ba3"]},"legend":null},"order":{"field":"i","type":"quantitative"}}}
]},
{"layer":[
{"data":{"values":[{}]},"mark":{"type":"rect","color":"white"},"encoding":{"x":{"datum":-135.6,"type":"quantitative","scale":{"domain":[-136.5,136.5],"nice":false,"zero":false},"axis":null},"x2":{"datum":135.6},"y":{"datum":213,"type":"quantitative","scale":{"domain":[-39,228],"nice":false,"zero":false,"reverse":true},"axis":null},"y2":{"datum":227.3}}},
{"data":{"values":[{}]},"mark":{"type":"rule","color":"#a8a8a8","strokeWidth":1},"encoding":{"x":{"datum":-136.5,"type":"quantitative","scale":{"domain":[-136.5,136.5],"nice":false,"zero":false},"axis":null},"x2":{"datum":136.5},"y":{"datum":213,"type":"quantitative","scale":{"domain":[-39,228],"nice":false,"zero":false,"reverse":true},"axis":null}}},
{"data":{"name":"angles"},"transform":[{"filter":"datum.side=='L'"}],"mark":{"type":"text","align":"left","fontSize":5,"color":"#7a7a7a"},"encoding":{"x":{"field":"x","type":"quantitative","scale":{"domain":[-136.5,136.5],"nice":false,"zero":false},"axis":null},"y":{"field":"y","type":"quantitative","scale":{"domain":[-39,228],"nice":false,"zero":false,"reverse":true},"axis":null},"text":{"field":"t","type":"nominal"}}},
{"data":{"name":"angles"},"transform":[{"filter":"datum.side=='R'"}],"mark":{"type":"text","align":"right","fontSize":5,"color":"#7a7a7a"},"encoding":{"x":{"field":"x","type":"quantitative","scale":{"domain":[-136.5,136.5],"nice":false,"zero":false},"axis":null},"y":{"field":"y","type":"quantitative","scale":{"domain":[-39,228],"nice":false,"zero":false,"reverse":true},"axis":null},"text":{"field":"t","type":"nominal"}}},
{"data":{"name":"angles"},"transform":[{"filter":"datum.side=='C'"}],"mark":{"type":"text","align":"center","fontSize":5,"color":"#7a7a7a"},"encoding":{"x":{"field":"x","type":"quantitative","scale":{"domain":[-136.5,136.5],"nice":false,"zero":false},"axis":null},"y":{"field":"y","type":"quantitative","scale":{"domain":[-39,228],"nice":false,"zero":false,"reverse":true},"axis":null},"text":{"field":"t","type":"nominal"}}},
{"data":{"values":[{}]},"mark":{"type":"text","text":"cd/klm","align":"left","fontSize":5,"color":"#6a6a6a"},"encoding":{"x":{"datum":-134,"type":"quantitative","scale":{"domain":[-136.5,136.5],"nice":false,"zero":false},"axis":null},"y":{"datum":218,"type":"quantitative","scale":{"domain":[-39,228],"nice":false,"zero":false,"reverse":true},"axis":null}}},
{"data":{"values":[{}]},"mark":{"type":"text","text":"η = 85%","align":"right","fontSize":5,"color":"#6a6a6a"},"encoding":{"x":{"datum":133,"type":"quantitative","scale":{"domain":[-136.5,136.5],"nice":false,"zero":false},"axis":null},"y":{"datum":219,"type":"quantitative","scale":{"domain":[-39,228],"nice":false,"zero":false,"reverse":true},"axis":null}}},
{"data":{"name":"legend"},"mark":{"type":"rule","strokeWidth":1.5},"encoding":{"x":{"field":"x","type":"quantitative","scale":{"domain":[-136.5,136.5],"nice":false,"zero":false},"axis":null},"x2":{"field":"x2"},"y":{"field":"y","type":"quantitative","scale":{"domain":[-39,228],"nice":false,"zero":false,"reverse":true},"axis":null},"color":{"field":"s","type":"nominal","scale":{"domain":["C0 - C180","C90 - C270"],"range":["#e8675f","#5b5ba3"]},"legend":null}}},
{"data":{"name":"legend"},"mark":{"type":"text","align":"left","fontSize":5,"color":"#6a6a6a"},"encoding":{"x":{"field":"tx","type":"quantitative","scale":{"domain":[-136.5,136.5],"nice":false,"zero":false},"axis":null},"y":{"field":"y","type":"quantitative","scale":{"domain":[-39,228],"nice":false,"zero":false,"reverse":true},"axis":null},"text":{"field":"s","type":"nominal"}}}
]}
]},
{"title":"Extensive :","width":273,"height":267,"resolve":{"scale":{"x":"independent","y":"independent"}},"layer":[
{"data":{"name":"radials"},"mark":{"type":"rule","clip":true,"color":"#ececec","strokeWidth":1},"encoding":{"x":{"field":"x1","type":"quantitative","scale":{"domain":[-136.5,136.5],"nice":false,"zero":false},"axis":null},"y":{"field":"y1","type":"quantitative","scale":{"domain":[-39,228],"nice":false,"zero":false,"reverse":true},"axis":null},"x2":{"field":"x2"},"y2":{"field":"y2"}}},
{"layer":[
{"data":{"name":"rings"},"transform":[{"filter":"datum.p=='c'"}],"mark":{"type":"point","shape":"circle","filled":false,"clip":true,"color":"#ececec","strokeWidth":1,"opacity":1},"encoding":{"x":{"datum":0,"type":"quantitative","scale":{"domain":[-477.75,477.75],"nice":false,"zero":false},"axis":null},"y":{"datum":0,"type":"quantitative","scale":{"domain":[-136.5,798],"nice":false,"zero":false,"reverse":true},"axis":null},"size":{"field":"r","type":"quantitative","scale":{"type":"pow","exponent":2,"domain":[0,900],"range":[0,264490]},"legend":null}}},
{"data":{"name":"rings"},"transform":[{"filter":"datum.p=='c' && datum.lab"}],"mark":{"type":"text","fontSize":5,"color":"#7a7a7a"},"encoding":{"x":{"datum":0,"type":"quantitative","scale":{"domain":[-477.75,477.75],"nice":false,"zero":false},"axis":null},"y":{"field":"r","type":"quantitative","scale":{"domain":[-136.5,798],"nice":false,"zero":false,"reverse":true},"axis":null},"text":{"field":"r","type":"nominal"}}},
{"data":{"name":"curves"},"transform":[{"filter":"datum.p=='c'"}],"mark":{"type":"line","clip":true,"strokeWidth":1.5,"interpolate":"catmull-rom"},"encoding":{"x":{"field":"x","type":"quantitative","scale":{"domain":[-477.75,477.75],"nice":false,"zero":false},"axis":null},"y":{"field":"y","type":"quantitative","scale":{"domain":[-136.5,798],"nice":false,"zero":false,"reverse":true},"axis":null},"color":{"field":"s","type":"nominal","scale":{"domain":["C0 - C180","C90 - C270"],"range":["#e8675f","#5b5ba3"]},"legend":null},"order":{"field":"i","type":"quantitative"}}}
]},
{"layer":[
{"data":{"values":[{}]},"mark":{"type":"rect","color":"white"},"encoding":{"x":{"datum":-135.6,"type":"quantitative","scale":{"domain":[-136.5,136.5],"nice":false,"zero":false},"axis":null},"x2":{"datum":135.6},"y":{"datum":213,"type":"quantitative","scale":{"domain":[-39,228],"nice":false,"zero":false,"reverse":true},"axis":null},"y2":{"datum":227.3}}},
{"data":{"values":[{}]},"mark":{"type":"rule","color":"#a8a8a8","strokeWidth":1},"encoding":{"x":{"datum":-136.5,"type":"quantitative","scale":{"domain":[-136.5,136.5],"nice":false,"zero":false},"axis":null},"x2":{"datum":136.5},"y":{"datum":213,"type":"quantitative","scale":{"domain":[-39,228],"nice":false,"zero":false,"reverse":true},"axis":null}}},
{"data":{"name":"angles"},"transform":[{"filter":"datum.side=='L'"}],"mark":{"type":"text","align":"left","fontSize":5,"color":"#7a7a7a"},"encoding":{"x":{"field":"x","type":"quantitative","scale":{"domain":[-136.5,136.5],"nice":false,"zero":false},"axis":null},"y":{"field":"y","type":"quantitative","scale":{"domain":[-39,228],"nice":false,"zero":false,"reverse":true},"axis":null},"text":{"field":"t","type":"nominal"}}},
{"data":{"name":"angles"},"transform":[{"filter":"datum.side=='R'"}],"mark":{"type":"text","align":"right","fontSize":5,"color":"#7a7a7a"},"encoding":{"x":{"field":"x","type":"quantitative","scale":{"domain":[-136.5,136.5],"nice":false,"zero":false},"axis":null},"y":{"field":"y","type":"quantitative","scale":{"domain":[-39,228],"nice":false,"zero":false,"reverse":true},"axis":null},"text":{"field":"t","type":"nominal"}}},
{"data":{"name":"angles"},"transform":[{"filter":"datum.side=='C'"}],"mark":{"type":"text","align":"center","fontSize":5,"color":"#7a7a7a"},"encoding":{"x":{"field":"x","type":"quantitative","scale":{"domain":[-136.5,136.5],"nice":false,"zero":false},"axis":null},"y":{"field":"y","type":"quantitative","scale":{"domain":[-39,228],"nice":false,"zero":false,"reverse":true},"axis":null},"text":{"field":"t","type":"nominal"}}},
{"data":{"values":[{}]},"mark":{"type":"text","text":"cd/klm","align":"left","fontSize":5,"color":"#6a6a6a"},"encoding":{"x":{"datum":-134,"type":"quantitative","scale":{"domain":[-136.5,136.5],"nice":false,"zero":false},"axis":null},"y":{"datum":218,"type":"quantitative","scale":{"domain":[-39,228],"nice":false,"zero":false,"reverse":true},"axis":null}}},
{"data":{"values":[{}]},"mark":{"type":"text","text":"η = 88%","align":"right","fontSize":5,"color":"#6a6a6a"},"encoding":{"x":{"datum":133,"type":"quantitative","scale":{"domain":[-136.5,136.5],"nice":false,"zero":false},"axis":null},"y":{"datum":219,"type":"quantitative","scale":{"domain":[-39,228],"nice":false,"zero":false,"reverse":true},"axis":null}}},
{"data":{"name":"legend"},"mark":{"type":"rule","strokeWidth":1.5},"encoding":{"x":{"field":"x","type":"quantitative","scale":{"domain":[-136.5,136.5],"nice":false,"zero":false},"axis":null},"x2":{"field":"x2"},"y":{"field":"y","type":"quantitative","scale":{"domain":[-39,228],"nice":false,"zero":false,"reverse":true},"axis":null},"color":{"field":"s","type":"nominal","scale":{"domain":["C0 - C180","C90 - C270"],"range":["#e8675f","#5b5ba3"]},"legend":null}}},
{"data":{"name":"legend"},"mark":{"type":"text","align":"left","fontSize":5,"color":"#6a6a6a"},"encoding":{"x":{"field":"tx","type":"quantitative","scale":{"domain":[-136.5,136.5],"nice":false,"zero":false},"axis":null},"y":{"field":"y","type":"quantitative","scale":{"domain":[-39,228],"nice":false,"zero":false,"reverse":true},"axis":null},"text":{"field":"s","type":"nominal"}}}
]}
]},
{"title":"High Rack :","width":273,"height":267,"resolve":{"scale":{"x":"independent","y":"independent"}},"layer":[
{"data":{"name":"radials"},"mark":{"type":"rule","clip":true,"color":"#ececec","strokeWidth":1},"encoding":{"x":{"field":"x1","type":"quantitative","scale":{"domain":[-136.5,136.5],"nice":false,"zero":false},"axis":null},"y":{"field":"y1","type":"quantitative","scale":{"domain":[-39,228],"nice":false,"zero":false,"reverse":true},"axis":null},"x2":{"field":"x2"},"y2":{"field":"y2"}}},
{"layer":[
{"data":{"name":"rings"},"transform":[{"filter":"datum.p=='d'"}],"mark":{"type":"point","shape":"circle","filled":false,"clip":true,"color":"#ececec","strokeWidth":1,"opacity":1},"encoding":{"x":{"datum":0,"type":"quantitative","scale":{"domain":[-750.75,750.75],"nice":false,"zero":false},"axis":null},"y":{"datum":0,"type":"quantitative","scale":{"domain":[-214.5,1254],"nice":false,"zero":false,"reverse":true},"axis":null},"size":{"field":"r","type":"quantitative","scale":{"type":"pow","exponent":2,"domain":[0,1400],"range":[0,259183]},"legend":null}}},
{"data":{"name":"rings"},"transform":[{"filter":"datum.p=='d' && datum.lab"}],"mark":{"type":"text","fontSize":5,"color":"#7a7a7a"},"encoding":{"x":{"datum":0,"type":"quantitative","scale":{"domain":[-750.75,750.75],"nice":false,"zero":false},"axis":null},"y":{"field":"r","type":"quantitative","scale":{"domain":[-214.5,1254],"nice":false,"zero":false,"reverse":true},"axis":null},"text":{"field":"r","type":"nominal"}}},
{"data":{"name":"curves"},"transform":[{"filter":"datum.p=='d'"}],"mark":{"type":"line","clip":true,"strokeWidth":1.5,"interpolate":"catmull-rom"},"encoding":{"x":{"field":"x","type":"quantitative","scale":{"domain":[-750.75,750.75],"nice":false,"zero":false},"axis":null},"y":{"field":"y","type":"quantitative","scale":{"domain":[-214.5,1254],"nice":false,"zero":false,"reverse":true},"axis":null},"color":{"field":"s","type":"nominal","scale":{"domain":["C0 - C180","C90 - C270"],"range":["#e8675f","#5b5ba3"]},"legend":null},"order":{"field":"i","type":"quantitative"}}}
]},
{"layer":[
{"data":{"values":[{}]},"mark":{"type":"rect","color":"white"},"encoding":{"x":{"datum":-135.6,"type":"quantitative","scale":{"domain":[-136.5,136.5],"nice":false,"zero":false},"axis":null},"x2":{"datum":135.6},"y":{"datum":213,"type":"quantitative","scale":{"domain":[-39,228],"nice":false,"zero":false,"reverse":true},"axis":null},"y2":{"datum":227.3}}},
{"data":{"values":[{}]},"mark":{"type":"rule","color":"#a8a8a8","strokeWidth":1},"encoding":{"x":{"datum":-136.5,"type":"quantitative","scale":{"domain":[-136.5,136.5],"nice":false,"zero":false},"axis":null},"x2":{"datum":136.5},"y":{"datum":213,"type":"quantitative","scale":{"domain":[-39,228],"nice":false,"zero":false,"reverse":true},"axis":null}}},
{"data":{"name":"angles"},"transform":[{"filter":"datum.side=='L'"}],"mark":{"type":"text","align":"left","fontSize":5,"color":"#7a7a7a"},"encoding":{"x":{"field":"x","type":"quantitative","scale":{"domain":[-136.5,136.5],"nice":false,"zero":false},"axis":null},"y":{"field":"y","type":"quantitative","scale":{"domain":[-39,228],"nice":false,"zero":false,"reverse":true},"axis":null},"text":{"field":"t","type":"nominal"}}},
{"data":{"name":"angles"},"transform":[{"filter":"datum.side=='R'"}],"mark":{"type":"text","align":"right","fontSize":5,"color":"#7a7a7a"},"encoding":{"x":{"field":"x","type":"quantitative","scale":{"domain":[-136.5,136.5],"nice":false,"zero":false},"axis":null},"y":{"field":"y","type":"quantitative","scale":{"domain":[-39,228],"nice":false,"zero":false,"reverse":true},"axis":null},"text":{"field":"t","type":"nominal"}}},
{"data":{"name":"angles"},"transform":[{"filter":"datum.side=='C'"}],"mark":{"type":"text","align":"center","fontSize":5,"color":"#7a7a7a"},"encoding":{"x":{"field":"x","type":"quantitative","scale":{"domain":[-136.5,136.5],"nice":false,"zero":false},"axis":null},"y":{"field":"y","type":"quantitative","scale":{"domain":[-39,228],"nice":false,"zero":false,"reverse":true},"axis":null},"text":{"field":"t","type":"nominal"}}},
{"data":{"values":[{}]},"mark":{"type":"text","text":"cd/klm","align":"left","fontSize":5,"color":"#6a6a6a"},"encoding":{"x":{"datum":-134,"type":"quantitative","scale":{"domain":[-136.5,136.5],"nice":false,"zero":false},"axis":null},"y":{"datum":218,"type":"quantitative","scale":{"domain":[-39,228],"nice":false,"zero":false,"reverse":true},"axis":null}}},
{"data":{"values":[{}]},"mark":{"type":"text","text":"η = 85%","align":"right","fontSize":5,"color":"#6a6a6a"},"encoding":{"x":{"datum":133,"type":"quantitative","scale":{"domain":[-136.5,136.5],"nice":false,"zero":false},"axis":null},"y":{"datum":219,"type":"quantitative","scale":{"domain":[-39,228],"nice":false,"zero":false,"reverse":true},"axis":null}}},
{"data":{"name":"legend"},"mark":{"type":"rule","strokeWidth":1.5},"encoding":{"x":{"field":"x","type":"quantitative","scale":{"domain":[-136.5,136.5],"nice":false,"zero":false},"axis":null},"x2":{"field":"x2"},"y":{"field":"y","type":"quantitative","scale":{"domain":[-39,228],"nice":false,"zero":false,"reverse":true},"axis":null},"color":{"field":"s","type":"nominal","scale":{"domain":["C0 - C180","C90 - C270"],"range":["#e8675f","#5b5ba3"]},"legend":null}}},
{"data":{"name":"legend"},"mark":{"type":"text","align":"left","fontSize":5,"color":"#6a6a6a"},"encoding":{"x":{"field":"tx","type":"quantitative","scale":{"domain":[-136.5,136.5],"nice":false,"zero":false},"axis":null},"y":{"field":"y","type":"quantitative","scale":{"domain":[-39,228],"nice":false,"zero":false,"reverse":true},"axis":null},"text":{"field":"s","type":"nominal"}}}
]}
]},
{"title":"Standard :","width":273,"height":267,"resolve":{"scale":{"x":"independent","y":"independent"}},"layer":[
{"data":{"name":"radials"},"mark":{"type":"rule","clip":true,"color":"#ececec","strokeWidth":1},"encoding":{"x":{"field":"x1","type":"quantitative","scale":{"domain":[-136.5,136.5],"nice":false,"zero":false},"axis":null},"y":{"field":"y1","type":"quantitative","scale":{"domain":[-39,228],"nice":false,"zero":false,"reverse":true},"axis":null},"x2":{"field":"x2"},"y2":{"field":"y2"}}},
{"layer":[
{"data":{"name":"rings"},"transform":[{"filter":"datum.p=='e'"}],"mark":{"type":"point","shape":"circle","filled":false,"clip":true,"color":"#ececec","strokeWidth":1,"opacity":1},"encoding":{"x":{"datum":0,"type":"quantitative","scale":{"domain":[-477.75,477.75],"nice":false,"zero":false},"axis":null},"y":{"datum":0,"type":"quantitative","scale":{"domain":[-136.5,798],"nice":false,"zero":false,"reverse":true},"axis":null},"size":{"field":"r","type":"quantitative","scale":{"type":"pow","exponent":2,"domain":[0,900],"range":[0,264490]},"legend":null}}},
{"data":{"name":"rings"},"transform":[{"filter":"datum.p=='e' && datum.lab"}],"mark":{"type":"text","fontSize":5,"color":"#7a7a7a"},"encoding":{"x":{"datum":0,"type":"quantitative","scale":{"domain":[-477.75,477.75],"nice":false,"zero":false},"axis":null},"y":{"field":"r","type":"quantitative","scale":{"domain":[-136.5,798],"nice":false,"zero":false,"reverse":true},"axis":null},"text":{"field":"r","type":"nominal"}}},
{"data":{"name":"curves"},"transform":[{"filter":"datum.p=='e'"}],"mark":{"type":"line","clip":true,"strokeWidth":1.5,"interpolate":"catmull-rom"},"encoding":{"x":{"field":"x","type":"quantitative","scale":{"domain":[-477.75,477.75],"nice":false,"zero":false},"axis":null},"y":{"field":"y","type":"quantitative","scale":{"domain":[-136.5,798],"nice":false,"zero":false,"reverse":true},"axis":null},"color":{"field":"s","type":"nominal","scale":{"domain":["C0 - C180","C90 - C270"],"range":["#e8675f","#5b5ba3"]},"legend":null},"order":{"field":"i","type":"quantitative"}}}
]},
{"layer":[
{"data":{"values":[{}]},"mark":{"type":"rect","color":"white"},"encoding":{"x":{"datum":-135.6,"type":"quantitative","scale":{"domain":[-136.5,136.5],"nice":false,"zero":false},"axis":null},"x2":{"datum":135.6},"y":{"datum":213,"type":"quantitative","scale":{"domain":[-39,228],"nice":false,"zero":false,"reverse":true},"axis":null},"y2":{"datum":227.3}}},
{"data":{"values":[{}]},"mark":{"type":"rule","color":"#a8a8a8","strokeWidth":1},"encoding":{"x":{"datum":-136.5,"type":"quantitative","scale":{"domain":[-136.5,136.5],"nice":false,"zero":false},"axis":null},"x2":{"datum":136.5},"y":{"datum":213,"type":"quantitative","scale":{"domain":[-39,228],"nice":false,"zero":false,"reverse":true},"axis":null}}},
{"data":{"name":"angles"},"transform":[{"filter":"datum.side=='L'"}],"mark":{"type":"text","align":"left","fontSize":5,"color":"#7a7a7a"},"encoding":{"x":{"field":"x","type":"quantitative","scale":{"domain":[-136.5,136.5],"nice":false,"zero":false},"axis":null},"y":{"field":"y","type":"quantitative","scale":{"domain":[-39,228],"nice":false,"zero":false,"reverse":true},"axis":null},"text":{"field":"t","type":"nominal"}}},
{"data":{"name":"angles"},"transform":[{"filter":"datum.side=='R'"}],"mark":{"type":"text","align":"right","fontSize":5,"color":"#7a7a7a"},"encoding":{"x":{"field":"x","type":"quantitative","scale":{"domain":[-136.5,136.5],"nice":false,"zero":false},"axis":null},"y":{"field":"y","type":"quantitative","scale":{"domain":[-39,228],"nice":false,"zero":false,"reverse":true},"axis":null},"text":{"field":"t","type":"nominal"}}},
{"data":{"name":"angles"},"transform":[{"filter":"datum.side=='C'"}],"mark":{"type":"text","align":"center","fontSize":5,"color":"#7a7a7a"},"encoding":{"x":{"field":"x","type":"quantitative","scale":{"domain":[-136.5,136.5],"nice":false,"zero":false},"axis":null},"y":{"field":"y","type":"quantitative","scale":{"domain":[-39,228],"nice":false,"zero":false,"reverse":true},"axis":null},"text":{"field":"t","type":"nominal"}}},
{"data":{"values":[{}]},"mark":{"type":"text","text":"cd/klm","align":"left","fontSize":5,"color":"#6a6a6a"},"encoding":{"x":{"datum":-134,"type":"quantitative","scale":{"domain":[-136.5,136.5],"nice":false,"zero":false},"axis":null},"y":{"datum":218,"type":"quantitative","scale":{"domain":[-39,228],"nice":false,"zero":false,"reverse":true},"axis":null}}},
{"data":{"values":[{}]},"mark":{"type":"text","text":"η = 85%","align":"right","fontSize":5,"color":"#6a6a6a"},"encoding":{"x":{"datum":133,"type":"quantitative","scale":{"domain":[-136.5,136.5],"nice":false,"zero":false},"axis":null},"y":{"datum":219,"type":"quantitative","scale":{"domain":[-39,228],"nice":false,"zero":false,"reverse":true},"axis":null}}},
{"data":{"name":"legend"},"mark":{"type":"rule","strokeWidth":1.5},"encoding":{"x":{"field":"x","type":"quantitative","scale":{"domain":[-136.5,136.5],"nice":false,"zero":false},"axis":null},"x2":{"field":"x2"},"y":{"field":"y","type":"quantitative","scale":{"domain":[-39,228],"nice":false,"zero":false,"reverse":true},"axis":null},"color":{"field":"s","type":"nominal","scale":{"domain":["C0 - C180","C90 - C270"],"range":["#e8675f","#5b5ba3"]},"legend":null}}},
{"data":{"name":"legend"},"mark":{"type":"text","align":"left","fontSize":5,"color":"#6a6a6a"},"encoding":{"x":{"field":"tx","type":"quantitative","scale":{"domain":[-136.5,136.5],"nice":false,"zero":false},"axis":null},"y":{"field":"y","type":"quantitative","scale":{"domain":[-39,228],"nice":false,"zero":false,"reverse":true},"axis":null},"text":{"field":"s","type":"nominal"}}}
]}
]},
{"title":"Symmetrical 30° :","width":273,"height":267,"resolve":{"scale":{"x":"independent","y":"independent"}},"layer":[
{"data":{"name":"radials"},"mark":{"type":"rule","clip":true,"color":"#ececec","strokeWidth":1},"encoding":{"x":{"field":"x1","type":"quantitative","scale":{"domain":[-136.5,136.5],"nice":false,"zero":false},"axis":null},"y":{"field":"y1","type":"quantitative","scale":{"domain":[-39,228],"nice":false,"zero":false,"reverse":true},"axis":null},"x2":{"field":"x2"},"y2":{"field":"y2"}}},
{"layer":[
{"data":{"name":"rings"},"transform":[{"filter":"datum.p=='f'"}],"mark":{"type":"point","shape":"circle","filled":false,"clip":true,"color":"#ececec","strokeWidth":1,"opacity":1},"encoding":{"x":{"datum":0,"type":"quantitative","scale":{"domain":[-2730,2730],"nice":false,"zero":false},"axis":null},"y":{"datum":0,"type":"quantitative","scale":{"domain":[-780,4560],"nice":false,"zero":false,"reverse":true},"axis":null},"size":{"field":"r","type":"quantitative","scale":{"type":"pow","exponent":2,"domain":[0,5600],"range":[0,313600]},"legend":null}}},
{"data":{"name":"rings"},"transform":[{"filter":"datum.p=='f' && datum.lab"}],"mark":{"type":"text","fontSize":5,"color":"#7a7a7a"},"encoding":{"x":{"datum":0,"type":"quantitative","scale":{"domain":[-2730,2730],"nice":false,"zero":false},"axis":null},"y":{"field":"r","type":"quantitative","scale":{"domain":[-780,4560],"nice":false,"zero":false,"reverse":true},"axis":null},"text":{"field":"r","type":"nominal"}}},
{"data":{"name":"curves"},"transform":[{"filter":"datum.p=='f'"}],"mark":{"type":"line","clip":true,"strokeWidth":1.5,"interpolate":"catmull-rom"},"encoding":{"x":{"field":"x","type":"quantitative","scale":{"domain":[-2730,2730],"nice":false,"zero":false},"axis":null},"y":{"field":"y","type":"quantitative","scale":{"domain":[-780,4560],"nice":false,"zero":false,"reverse":true},"axis":null},"color":{"field":"s","type":"nominal","scale":{"domain":["C0 - C180","C90 - C270"],"range":["#e8675f","#5b5ba3"]},"legend":null},"order":{"field":"i","type":"quantitative"}}}
]},
{"layer":[
{"data":{"values":[{}]},"mark":{"type":"rect","color":"white"},"encoding":{"x":{"datum":-135.6,"type":"quantitative","scale":{"domain":[-136.5,136.5],"nice":false,"zero":false},"axis":null},"x2":{"datum":135.6},"y":{"datum":213,"type":"quantitative","scale":{"domain":[-39,228],"nice":false,"zero":false,"reverse":true},"axis":null},"y2":{"datum":227.3}}},
{"data":{"values":[{}]},"mark":{"type":"rule","color":"#a8a8a8","strokeWidth":1},"encoding":{"x":{"datum":-136.5,"type":"quantitative","scale":{"domain":[-136.5,136.5],"nice":false,"zero":false},"axis":null},"x2":{"datum":136.5},"y":{"datum":213,"type":"quantitative","scale":{"domain":[-39,228],"nice":false,"zero":false,"reverse":true},"axis":null}}},
{"data":{"name":"angles"},"transform":[{"filter":"datum.side=='L'"}],"mark":{"type":"text","align":"left","fontSize":5,"color":"#7a7a7a"},"encoding":{"x":{"field":"x","type":"quantitative","scale":{"domain":[-136.5,136.5],"nice":false,"zero":false},"axis":null},"y":{"field":"y","type":"quantitative","scale":{"domain":[-39,228],"nice":false,"zero":false,"reverse":true},"axis":null},"text":{"field":"t","type":"nominal"}}},
{"data":{"name":"angles"},"transform":[{"filter":"datum.side=='R'"}],"mark":{"type":"text","align":"right","fontSize":5,"color":"#7a7a7a"},"encoding":{"x":{"field":"x","type":"quantitative","scale":{"domain":[-136.5,136.5],"nice":false,"zero":false},"axis":null},"y":{"field":"y","type":"quantitative","scale":{"domain":[-39,228],"nice":false,"zero":false,"reverse":true},"axis":null},"text":{"field":"t","type":"nominal"}}},
{"data":{"name":"angles"},"transform":[{"filter":"datum.side=='C'"}],"mark":{"type":"text","align":"center","fontSize":5,"color":"#7a7a7a"},"encoding":{"x":{"field":"x","type":"quantitative","scale":{"domain":[-136.5,136.5],"nice":false,"zero":false},"axis":null},"y":{"field":"y","type":"quantitative","scale":{"domain":[-39,228],"nice":false,"zero":false,"reverse":true},"axis":null},"text":{"field":"t","type":"nominal"}}},
{"data":{"values":[{}]},"mark":{"type":"text","text":"cd/klm","align":"left","fontSize":5,"color":"#6a6a6a"},"encoding":{"x":{"datum":-134,"type":"quantitative","scale":{"domain":[-136.5,136.5],"nice":false,"zero":false},"axis":null},"y":{"datum":218,"type":"quantitative","scale":{"domain":[-39,228],"nice":false,"zero":false,"reverse":true},"axis":null}}},
{"data":{"values":[{}]},"mark":{"type":"text","text":"η = 85%","align":"right","fontSize":5,"color":"#6a6a6a"},"encoding":{"x":{"datum":133,"type":"quantitative","scale":{"domain":[-136.5,136.5],"nice":false,"zero":false},"axis":null},"y":{"datum":219,"type":"quantitative","scale":{"domain":[-39,228],"nice":false,"zero":false,"reverse":true},"axis":null}}},
{"data":{"name":"legend"},"mark":{"type":"rule","strokeWidth":1.5},"encoding":{"x":{"field":"x","type":"quantitative","scale":{"domain":[-136.5,136.5],"nice":false,"zero":false},"axis":null},"x2":{"field":"x2"},"y":{"field":"y","type":"quantitative","scale":{"domain":[-39,228],"nice":false,"zero":false,"reverse":true},"axis":null},"color":{"field":"s","type":"nominal","scale":{"domain":["C0 - C180","C90 - C270"],"range":["#e8675f","#5b5ba3"]},"legend":null}}},
{"data":{"name":"legend"},"mark":{"type":"text","align":"left","fontSize":5,"color":"#6a6a6a"},"encoding":{"x":{"field":"tx","type":"quantitative","scale":{"domain":[-136.5,136.5],"nice":false,"zero":false},"axis":null},"y":{"field":"y","type":"quantitative","scale":{"domain":[-39,228],"nice":false,"zero":false,"reverse":true},"axis":null},"text":{"field":"s","type":"nominal"}}}
]}
]},
{"title":"Symmetrical 60° :","width":273,"height":267,"resolve":{"scale":{"x":"independent","y":"independent"}},"layer":[
{"data":{"name":"radials"},"mark":{"type":"rule","clip":true,"color":"#ececec","strokeWidth":1},"encoding":{"x":{"field":"x1","type":"quantitative","scale":{"domain":[-136.5,136.5],"nice":false,"zero":false},"axis":null},"y":{"field":"y1","type":"quantitative","scale":{"domain":[-39,228],"nice":false,"zero":false,"reverse":true},"axis":null},"x2":{"field":"x2"},"y2":{"field":"y2"}}},
{"layer":[
{"data":{"name":"rings"},"transform":[{"filter":"datum.p=='g'"}],"mark":{"type":"point","shape":"circle","filled":false,"clip":true,"color":"#ececec","strokeWidth":1,"opacity":1},"encoding":{"x":{"datum":0,"type":"quantitative","scale":{"domain":[-750.75,750.75],"nice":false,"zero":false},"axis":null},"y":{"datum":0,"type":"quantitative","scale":{"domain":[-214.5,1254],"nice":false,"zero":false,"reverse":true},"axis":null},"size":{"field":"r","type":"quantitative","scale":{"type":"pow","exponent":2,"domain":[0,1400],"range":[0,259183]},"legend":null}}},
{"data":{"name":"rings"},"transform":[{"filter":"datum.p=='g' && datum.lab"}],"mark":{"type":"text","fontSize":5,"color":"#7a7a7a"},"encoding":{"x":{"datum":0,"type":"quantitative","scale":{"domain":[-750.75,750.75],"nice":false,"zero":false},"axis":null},"y":{"field":"r","type":"quantitative","scale":{"domain":[-214.5,1254],"nice":false,"zero":false,"reverse":true},"axis":null},"text":{"field":"r","type":"nominal"}}},
{"data":{"name":"curves"},"transform":[{"filter":"datum.p=='g'"}],"mark":{"type":"line","clip":true,"strokeWidth":1.5,"interpolate":"catmull-rom"},"encoding":{"x":{"field":"x","type":"quantitative","scale":{"domain":[-750.75,750.75],"nice":false,"zero":false},"axis":null},"y":{"field":"y","type":"quantitative","scale":{"domain":[-214.5,1254],"nice":false,"zero":false,"reverse":true},"axis":null},"color":{"field":"s","type":"nominal","scale":{"domain":["C0 - C180","C90 - C270"],"range":["#e8675f","#5b5ba3"]},"legend":null},"order":{"field":"i","type":"quantitative"}}}
]},
{"layer":[
{"data":{"values":[{}]},"mark":{"type":"rect","color":"white"},"encoding":{"x":{"datum":-135.6,"type":"quantitative","scale":{"domain":[-136.5,136.5],"nice":false,"zero":false},"axis":null},"x2":{"datum":135.6},"y":{"datum":213,"type":"quantitative","scale":{"domain":[-39,228],"nice":false,"zero":false,"reverse":true},"axis":null},"y2":{"datum":227.3}}},
{"data":{"values":[{}]},"mark":{"type":"rule","color":"#a8a8a8","strokeWidth":1},"encoding":{"x":{"datum":-136.5,"type":"quantitative","scale":{"domain":[-136.5,136.5],"nice":false,"zero":false},"axis":null},"x2":{"datum":136.5},"y":{"datum":213,"type":"quantitative","scale":{"domain":[-39,228],"nice":false,"zero":false,"reverse":true},"axis":null}}},
{"data":{"name":"angles"},"transform":[{"filter":"datum.side=='L'"}],"mark":{"type":"text","align":"left","fontSize":5,"color":"#7a7a7a"},"encoding":{"x":{"field":"x","type":"quantitative","scale":{"domain":[-136.5,136.5],"nice":false,"zero":false},"axis":null},"y":{"field":"y","type":"quantitative","scale":{"domain":[-39,228],"nice":false,"zero":false,"reverse":true},"axis":null},"text":{"field":"t","type":"nominal"}}},
{"data":{"name":"angles"},"transform":[{"filter":"datum.side=='R'"}],"mark":{"type":"text","align":"right","fontSize":5,"color":"#7a7a7a"},"encoding":{"x":{"field":"x","type":"quantitative","scale":{"domain":[-136.5,136.5],"nice":false,"zero":false},"axis":null},"y":{"field":"y","type":"quantitative","scale":{"domain":[-39,228],"nice":false,"zero":false,"reverse":true},"axis":null},"text":{"field":"t","type":"nominal"}}},
{"data":{"name":"angles"},"transform":[{"filter":"datum.side=='C'"}],"mark":{"type":"text","align":"center","fontSize":5,"color":"#7a7a7a"},"encoding":{"x":{"field":"x","type":"quantitative","scale":{"domain":[-136.5,136.5],"nice":false,"zero":false},"axis":null},"y":{"field":"y","type":"quantitative","scale":{"domain":[-39,228],"nice":false,"zero":false,"reverse":true},"axis":null},"text":{"field":"t","type":"nominal"}}},
{"data":{"values":[{}]},"mark":{"type":"text","text":"cd/klm","align":"left","fontSize":5,"color":"#6a6a6a"},"encoding":{"x":{"datum":-134,"type":"quantitative","scale":{"domain":[-136.5,136.5],"nice":false,"zero":false},"axis":null},"y":{"datum":218,"type":"quantitative","scale":{"domain":[-39,228],"nice":false,"zero":false,"reverse":true},"axis":null}}},
{"data":{"values":[{}]},"mark":{"type":"text","text":"η = 85%","align":"right","fontSize":5,"color":"#6a6a6a"},"encoding":{"x":{"datum":133,"type":"quantitative","scale":{"domain":[-136.5,136.5],"nice":false,"zero":false},"axis":null},"y":{"datum":219,"type":"quantitative","scale":{"domain":[-39,228],"nice":false,"zero":false,"reverse":true},"axis":null}}},
{"data":{"name":"legend"},"mark":{"type":"rule","strokeWidth":1.5},"encoding":{"x":{"field":"x","type":"quantitative","scale":{"domain":[-136.5,136.5],"nice":false,"zero":false},"axis":null},"x2":{"field":"x2"},"y":{"field":"y","type":"quantitative","scale":{"domain":[-39,228],"nice":false,"zero":false,"reverse":true},"axis":null},"color":{"field":"s","type":"nominal","scale":{"domain":["C0 - C180","C90 - C270"],"range":["#e8675f","#5b5ba3"]},"legend":null}}},
{"data":{"name":"legend"},"mark":{"type":"text","align":"left","fontSize":5,"color":"#6a6a6a"},"encoding":{"x":{"field":"tx","type":"quantitative","scale":{"domain":[-136.5,136.5],"nice":false,"zero":false},"axis":null},"y":{"field":"y","type":"quantitative","scale":{"domain":[-39,228],"nice":false,"zero":false,"reverse":true},"axis":null},"text":{"field":"s","type":"nominal"}}}
]}
]},
{"title":"Symmetrical 70° :","width":273,"height":267,"resolve":{"scale":{"x":"independent","y":"independent"}},"layer":[
{"data":{"name":"radials"},"mark":{"type":"rule","clip":true,"color":"#ececec","strokeWidth":1},"encoding":{"x":{"field":"x1","type":"quantitative","scale":{"domain":[-136.5,136.5],"nice":false,"zero":false},"axis":null},"y":{"field":"y1","type":"quantitative","scale":{"domain":[-39,228],"nice":false,"zero":false,"reverse":true},"axis":null},"x2":{"field":"x2"},"y2":{"field":"y2"}}},
{"layer":[
{"data":{"name":"rings"},"transform":[{"filter":"datum.p=='h'"}],"mark":{"type":"point","shape":"circle","filled":false,"clip":true,"color":"#ececec","strokeWidth":1,"opacity":1},"encoding":{"x":{"datum":0,"type":"quantitative","scale":{"domain":[-750.75,750.75],"nice":false,"zero":false},"axis":null},"y":{"datum":0,"type":"quantitative","scale":{"domain":[-214.5,1254],"nice":false,"zero":false,"reverse":true},"axis":null},"size":{"field":"r","type":"quantitative","scale":{"type":"pow","exponent":2,"domain":[0,1400],"range":[0,259183]},"legend":null}}},
{"data":{"name":"rings"},"transform":[{"filter":"datum.p=='h' && datum.lab"}],"mark":{"type":"text","fontSize":5,"color":"#7a7a7a"},"encoding":{"x":{"datum":0,"type":"quantitative","scale":{"domain":[-750.75,750.75],"nice":false,"zero":false},"axis":null},"y":{"field":"r","type":"quantitative","scale":{"domain":[-214.5,1254],"nice":false,"zero":false,"reverse":true},"axis":null},"text":{"field":"r","type":"nominal"}}},
{"data":{"name":"curves"},"transform":[{"filter":"datum.p=='h'"}],"mark":{"type":"line","clip":true,"strokeWidth":1.5,"interpolate":"catmull-rom"},"encoding":{"x":{"field":"x","type":"quantitative","scale":{"domain":[-750.75,750.75],"nice":false,"zero":false},"axis":null},"y":{"field":"y","type":"quantitative","scale":{"domain":[-214.5,1254],"nice":false,"zero":false,"reverse":true},"axis":null},"color":{"field":"s","type":"nominal","scale":{"domain":["C0 - C180","C90 - C270"],"range":["#e8675f","#5b5ba3"]},"legend":null},"order":{"field":"i","type":"quantitative"}}}
]},
{"layer":[
{"data":{"values":[{}]},"mark":{"type":"rect","color":"white"},"encoding":{"x":{"datum":-135.6,"type":"quantitative","scale":{"domain":[-136.5,136.5],"nice":false,"zero":false},"axis":null},"x2":{"datum":135.6},"y":{"datum":213,"type":"quantitative","scale":{"domain":[-39,228],"nice":false,"zero":false,"reverse":true},"axis":null},"y2":{"datum":227.3}}},
{"data":{"values":[{}]},"mark":{"type":"rule","color":"#a8a8a8","strokeWidth":1},"encoding":{"x":{"datum":-136.5,"type":"quantitative","scale":{"domain":[-136.5,136.5],"nice":false,"zero":false},"axis":null},"x2":{"datum":136.5},"y":{"datum":213,"type":"quantitative","scale":{"domain":[-39,228],"nice":false,"zero":false,"reverse":true},"axis":null}}},
{"data":{"name":"angles"},"transform":[{"filter":"datum.side=='L'"}],"mark":{"type":"text","align":"left","fontSize":5,"color":"#7a7a7a"},"encoding":{"x":{"field":"x","type":"quantitative","scale":{"domain":[-136.5,136.5],"nice":false,"zero":false},"axis":null},"y":{"field":"y","type":"quantitative","scale":{"domain":[-39,228],"nice":false,"zero":false,"reverse":true},"axis":null},"text":{"field":"t","type":"nominal"}}},
{"data":{"name":"angles"},"transform":[{"filter":"datum.side=='R'"}],"mark":{"type":"text","align":"right","fontSize":5,"color":"#7a7a7a"},"encoding":{"x":{"field":"x","type":"quantitative","scale":{"domain":[-136.5,136.5],"nice":false,"zero":false},"axis":null},"y":{"field":"y","type":"quantitative","scale":{"domain":[-39,228],"nice":false,"zero":false,"reverse":true},"axis":null},"text":{"field":"t","type":"nominal"}}},
{"data":{"name":"angles"},"transform":[{"filter":"datum.side=='C'"}],"mark":{"type":"text","align":"center","fontSize":5,"color":"#7a7a7a"},"encoding":{"x":{"field":"x","type":"quantitative","scale":{"domain":[-136.5,136.5],"nice":false,"zero":false},"axis":null},"y":{"field":"y","type":"quantitative","scale":{"domain":[-39,228],"nice":false,"zero":false,"reverse":true},"axis":null},"text":{"field":"t","type":"nominal"}}},
{"data":{"values":[{}]},"mark":{"type":"text","text":"cd/klm","align":"left","fontSize":5,"color":"#6a6a6a"},"encoding":{"x":{"datum":-134,"type":"quantitative","scale":{"domain":[-136.5,136.5],"nice":false,"zero":false},"axis":null},"y":{"datum":218,"type":"quantitative","scale":{"domain":[-39,228],"nice":false,"zero":false,"reverse":true},"axis":null}}},
{"data":{"values":[{}]},"mark":{"type":"text","text":"η = 85%","align":"right","fontSize":5,"color":"#6a6a6a"},"encoding":{"x":{"datum":133,"type":"quantitative","scale":{"domain":[-136.5,136.5],"nice":false,"zero":false},"axis":null},"y":{"datum":219,"type":"quantitative","scale":{"domain":[-39,228],"nice":false,"zero":false,"reverse":true},"axis":null}}},
{"data":{"name":"legend"},"mark":{"type":"rule","strokeWidth":1.5},"encoding":{"x":{"field":"x","type":"quantitative","scale":{"domain":[-136.5,136.5],"nice":false,"zero":false},"axis":null},"x2":{"field":"x2"},"y":{"field":"y","type":"quantitative","scale":{"domain":[-39,228],"nice":false,"zero":false,"reverse":true},"axis":null},"color":{"field":"s","type":"nominal","scale":{"domain":["C0 - C180","C90 - C270"],"range":["#e8675f","#5b5ba3"]},"legend":null}}},
{"data":{"name":"legend"},"mark":{"type":"text","align":"left","fontSize":5,"color":"#6a6a6a"},"encoding":{"x":{"field":"tx","type":"quantitative","scale":{"domain":[-136.5,136.5],"nice":false,"zero":false},"axis":null},"y":{"field":"y","type":"quantitative","scale":{"domain":[-39,228],"nice":false,"zero":false,"reverse":true},"axis":null},"text":{"field":"s","type":"nominal"}}}
]}
]}
]
}
